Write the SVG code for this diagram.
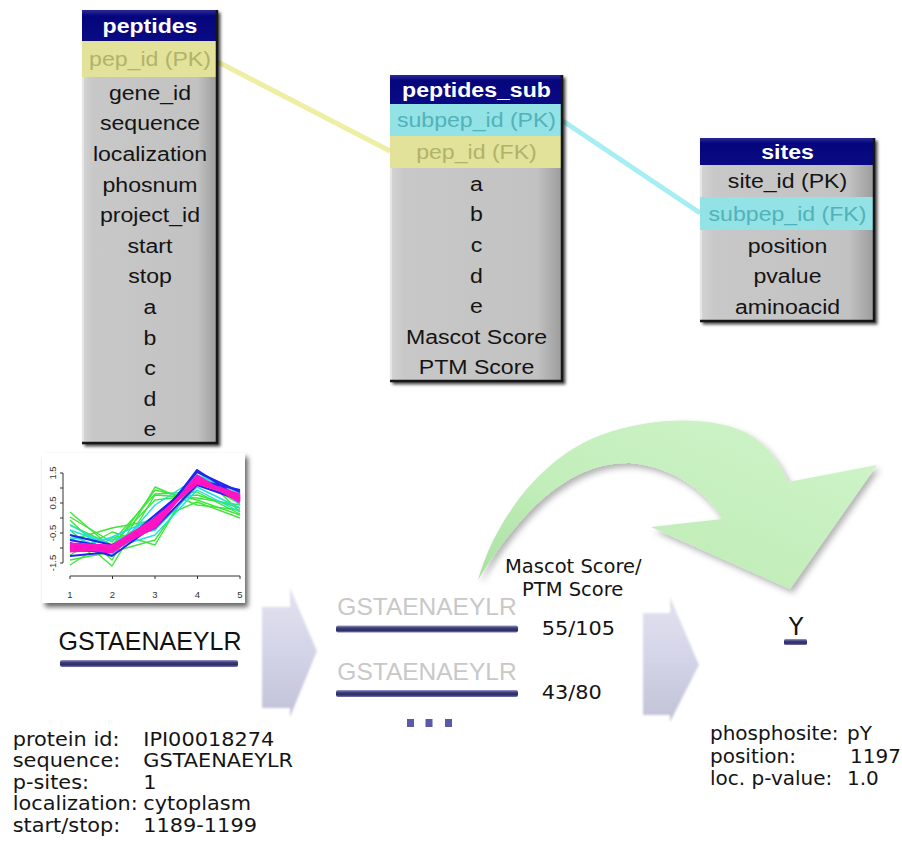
<svg xmlns="http://www.w3.org/2000/svg" width="902" height="844" viewBox="0 0 902 844">
  <defs>
    <style>
      .th { font-family: 'Liberation Sans', Arial, sans-serif; font-weight: bold; font-size: 21px; fill: #ffffff; text-anchor: middle; }
      .td { font-family: 'Liberation Sans', Arial, sans-serif; font-size: 21px; fill: #141414; text-anchor: middle; }
      .td.key-y { fill: #b2b26a; }
      .td.key-c { fill: #52b2ba; }
      .row-y { fill: #e2e29a; }
      .row-c { fill: #92e2e6; }
      .body { fill: url(#tblGray); }
      .head { fill: url(#tblHead); }
      .edge { fill: none; stroke: #161616; stroke-width: 2.5; }
      .hl { fill: #e6e6e6; }
      .lbl { font-family: 'DejaVu Sans', Verdana, sans-serif; font-size: 19.5px; fill: #141414; }
      .lbl-site { font-size: 20px; }
      .big-y { font-size: 24px; text-anchor: middle; }
      .seq { font-family: 'Liberation Sans', Arial, sans-serif; }
      .bar { fill: url(#barGrad); }
      .dot { fill: #5a5aa6; }
      .axis { fill: none; stroke: #333333; stroke-width: 1; }
      .tick { font-family: 'Liberation Sans', Arial, sans-serif; font-size: 9.5px; fill: #333333; text-anchor: middle; }
      .ln { fill: none; stroke-width: 1.4; stroke-linejoin: round; }
      .ln-g { stroke: #3ee63a; }
      .ln-c { stroke: #1ee0dc; }
      .ln-b { stroke: #2424f0; stroke-width: 2; }
      .ln-m { stroke: #ff14c4; stroke-width: 3; }
      .link { fill: none; stroke-width: 5; stroke-linecap: butt; }
      .step { fill: url(#stepGrad); }
    </style>
    <linearGradient id="tblGray" x1="0" y1="0" x2="1" y2="0">
      <stop offset="0" stop-color="#d4d4d4"/>
      <stop offset="0.08" stop-color="#c8c8c8"/>
      <stop offset="0.85" stop-color="#c2c2c2"/>
      <stop offset="1" stop-color="#9a9a9a"/>
    </linearGradient>
    <linearGradient id="tblHead" x1="0" y1="0" x2="0" y2="1">
      <stop offset="0" stop-color="#2a2a96"/>
      <stop offset="0.2" stop-color="#05057c"/>
      <stop offset="1" stop-color="#0a0a84"/>
    </linearGradient>
    <linearGradient id="barGrad" x1="0" y1="0" x2="0" y2="1">
      <stop offset="0" stop-color="#9a9ac8"/>
      <stop offset="0.35" stop-color="#3c3c7a"/>
      <stop offset="0.7" stop-color="#2c2c64"/>
      <stop offset="1" stop-color="#7a7ab0"/>
    </linearGradient>
    <linearGradient id="stepGrad" x1="0" y1="0" x2="0" y2="1">
      <stop offset="0" stop-color="#e2e2f0"/>
      <stop offset="0.5" stop-color="#d4d4e8"/>
      <stop offset="1" stop-color="#c2c2d8"/>
    </linearGradient>
    <linearGradient id="greenGrad" x1="0" y1="1" x2="1" y2="0">
      <stop offset="0" stop-color="#a8e0a0"/>
      <stop offset="0.4" stop-color="#c2eeba"/>
      <stop offset="1" stop-color="#d0f4ca"/>
    </linearGradient>
    <filter id="tblShadow" x="-10%" y="-10%" width="125%" height="125%">
      <feDropShadow dx="2.5" dy="2.5" stdDeviation="1.5" flood-color="#000000" flood-opacity="0.7"/>
    </filter>
    <filter id="plotShadow" x="-10%" y="-10%" width="125%" height="130%">
      <feDropShadow dx="3" dy="4" stdDeviation="2.5" flood-color="#000000" flood-opacity="0.6"/>
    </filter>
    <filter id="arrowShadow" x="-10%" y="-10%" width="125%" height="130%">
      <feDropShadow dx="3" dy="4" stdDeviation="3" flood-color="#000000" flood-opacity="0.3"/>
    </filter>
    <filter id="soft" x="-10%" y="-10%" width="120%" height="120%">
      <feGaussianBlur stdDeviation="0.8"/>
    </filter>
  </defs>

  <rect width="902" height="844" fill="#ffffff"/>

  <!-- key links between tables -->
  <g id="connectors">
    <line class="link" x1="218" y1="62" x2="390" y2="151" stroke="#eeeea4"/>
    <line class="link" x1="563" y1="121" x2="700" y2="213" stroke="#a6eef2"/>
  </g>

  <!-- table: peptides -->
  <g id="peptides">
    <rect class="body" x="82" y="10" width="136" height="434" filter="url(#tblShadow)"/>
    <rect class="head" x="82" y="10" width="136" height="31"/>
    <rect class="row-y" x="82" y="41" width="136" height="36"/>
    <rect class="hl" x="82" y="77" width="2" height="367"/>
    <path class="edge" d="M217,10 V443 H82"/>
    <g transform="translate(150,0) scale(1.1,1)">
      <text class="th" x="0" y="33.5">peptides</text>
      <text class="td key-y" x="0" y="66.5">pep_id (PK)</text>
      <text class="td" x="0" y="99.8">gene_id</text>
      <text class="td" x="0" y="130.4">sequence</text>
      <text class="td" x="0" y="161">localization</text>
      <text class="td" x="0" y="191.6">phosnum</text>
      <text class="td" x="0" y="222.2">project_id</text>
      <text class="td" x="0" y="252.8">start</text>
      <text class="td" x="0" y="283.4">stop</text>
      <text class="td" x="0" y="314">a</text>
      <text class="td" x="0" y="344.6">b</text>
      <text class="td" x="0" y="375.2">c</text>
      <text class="td" x="0" y="405.8">d</text>
      <text class="td" x="0" y="436.4">e</text>
    </g>
  </g>

  <!-- table: peptides_sub -->
  <g id="peptides_sub">
    <rect class="body" x="390" y="75" width="173" height="307" filter="url(#tblShadow)"/>
    <rect class="head" x="390" y="75" width="173" height="29"/>
    <rect class="row-c" x="390" y="104" width="173" height="32"/>
    <rect class="row-y" x="390" y="136" width="173" height="32"/>
    <rect class="hl" x="390" y="168" width="2" height="214"/>
    <path class="edge" d="M562,75 V381 H390"/>
    <g transform="translate(476.5,0) scale(1.1,1)">
      <text class="th" x="0" y="97">peptides_sub</text>
      <text class="td key-c" x="0" y="127.5">subpep_id (PK)</text>
      <text class="td key-y" x="0" y="159.5">pep_id (FK)</text>
      <text class="td" x="0" y="190.8">a</text>
      <text class="td" x="0" y="221.4">b</text>
      <text class="td" x="0" y="252">c</text>
      <text class="td" x="0" y="282.6">d</text>
      <text class="td" x="0" y="313.2">e</text>
      <text class="td" x="0" y="343.8">Mascot Score</text>
      <text class="td" x="0" y="374.4">PTM Score</text>
    </g>
  </g>

  <!-- table: sites -->
  <g id="sites">
    <rect class="body" x="700" y="138" width="175" height="184" filter="url(#tblShadow)"/>
    <rect class="head" x="700" y="138" width="175" height="27"/>
    <rect class="row-c" x="700" y="197" width="175" height="33"/>
    <rect class="hl" x="700" y="165" width="2" height="32"/>
    <rect class="hl" x="700" y="230" width="2" height="92"/>
    <path class="edge" d="M874,138 V321 H700"/>
    <g transform="translate(787.5,0) scale(1.1,1)">
      <text class="th" x="0" y="159">sites</text>
      <text class="td" x="0" y="188.5">site_id (PK)</text>
      <text class="td key-c" x="0" y="221">subpep_id (FK)</text>
      <text class="td" x="0" y="252.8">position</text>
      <text class="td" x="0" y="283.4">pvalue</text>
      <text class="td" x="0" y="314">aminoacid</text>
    </g>
  </g>

  <!-- expression profile plot -->
  <g id="expression-plot">
    <rect x="42" y="453" width="203" height="150" fill="#ffffff" filter="url(#plotShadow)"/>
    <g>
      <polyline class="ln ln-g" points="70,512 112,548 155,490 197,500 240,515"/>
      <polyline class="ln ln-g" points="70,520 112,560 155,487 197,505 240,510"/>
      <polyline class="ln ln-g" points="70,565 112,538 155,530 197,470 240,512"/>
      <polyline class="ln ln-g" points="70,530 112,566 155,495 197,498 240,505"/>
      <polyline class="ln ln-g" points="70,555 112,532 155,545 197,475 240,500"/>
      <polyline class="ln ln-g" points="70,540 112,528 155,520 197,502 240,518"/>
      <polyline class="ln ln-g" points="70,525 112,545 155,500 197,495 240,508"/>
      <polyline class="ln ln-g" points="70,560 112,552 155,540 197,480 240,504"/>
      <polyline class="ln ln-g" points="70,517 112,542 155,494 197,492 240,514"/>
      <polyline class="ln ln-c" points="70,530 112,545 155,515 197,480 240,500"/>
      <polyline class="ln ln-c" points="70,538 112,540 155,530 197,487 240,508"/>
      <polyline class="ln ln-c" points="70,545 112,555 155,505 197,478 240,497"/>
      <polyline class="ln ln-c" points="70,525 112,548 155,535 197,490 240,512"/>
      <polyline class="ln ln-c" points="70,550 112,537 155,518 197,475 240,493"/>
      <polyline class="ln ln-c" points="70,535 112,552 155,526 197,470 240,505"/>
      <polyline class="ln ln-b" points="70,540 112,548 155,522 197,472 240,492"/>
      <polyline class="ln ln-b" points="70,550 112,552 155,518 197,478 240,496"/>
      <polyline class="ln ln-b" points="70,535 112,545 155,528 197,485 240,500"/>
      <polyline class="ln ln-b" points="70,556 112,552 155,515 197,480 240,490"/>
      <polyline class="ln ln-b" points="70,543 112,556 155,525 197,470 240,498"/>
      <polyline class="ln ln-m" points="70,546 112,548 155,522 197,480 240,498"/>
      <polyline class="ln ln-m" points="70,549 112,550 155,525 197,478 240,500"/>
      <polyline class="ln ln-m" points="70,544 112,546 155,519 197,483 240,496"/>
      <polyline class="ln ln-m" points="70,551 112,549 155,527 197,476 240,502"/>
      <polyline class="ln ln-m" points="70,547 112,552 155,521 197,481 240,495"/>
    </g>
    <path class="axis" d="M63,473 V563 M60,473 H63 M60,488 H63 M60,503 H63 M60,518 H63 M60,533 H63 M60,548 H63 M60,563 H63"/>
    <path class="axis" d="M70,576 H240 M70,576 V579 M112.5,576 V579 M155,576 V579 M197.5,576 V579 M240,576 V579"/>
    <text class="tick" transform="translate(56,473) rotate(-90)">1.5</text>
    <text class="tick" transform="translate(56,503) rotate(-90)">0.5</text>
    <text class="tick" transform="translate(56,533) rotate(-90)">-0.5</text>
    <text class="tick" transform="translate(56,563) rotate(-90)">-1.5</text>
    <text class="tick" x="70" y="598">1</text>
    <text class="tick" x="112.5" y="598">2</text>
    <text class="tick" x="155" y="598">3</text>
    <text class="tick" x="197.5" y="598">4</text>
    <text class="tick" x="240" y="598">5</text>
  </g>

  <!-- peptide sequence -->
  <g id="peptide">
    <text class="seq" x="150" y="650" font-size="25" fill="#111111" text-anchor="middle">GSTAENAEYLR</text>
    <rect class="bar" x="60" y="660" width="178" height="7" rx="2"/>
  </g>

  <!-- peptide details -->
  <g id="peptide-info" class="lbl">
    <g transform="translate(12.7,0) scale(1.07,1)">
      <text x="0" y="746">protein id:</text>
      <text x="122" y="746">IPI00018274</text>
      <text x="0" y="767.5">sequence:</text>
      <text x="122" y="767.5">GSTAENAEYLR</text>
      <text x="0" y="789">p-sites:</text>
      <text x="122" y="789">1</text>
      <text x="0" y="810.5">localization:</text>
      <text x="122" y="810.5">cytoplasm</text>
      <text x="0" y="832">start/stop:</text>
      <text x="122" y="832">1189-1199</text>
    </g>
  </g>

  <!-- processing steps -->
  <g id="step-1">
    <path class="step" filter="url(#soft)" d="M262,607 H290 V588 L317,651 L290,717 V708 H262 Z"/>
  </g>
  <g id="step-2">
    <path class="step" filter="url(#soft)" d="M643,613 H670 V597 L699,665 L670,722 V715 H643 Z"/>
  </g>

  <!-- candidate peptides -->
  <g id="candidates">
    <text class="seq" x="427" y="615" font-size="24.5" fill="#c8c8c8" text-anchor="middle">GSTAENAEYLR</text>
    <rect class="bar" x="336" y="625.5" width="182" height="7" rx="2"/>
    <text class="seq" x="427" y="680" font-size="24.5" fill="#c8c8c8" text-anchor="middle">GSTAENAEYLR</text>
    <rect class="bar" x="336" y="690" width="182" height="7" rx="2"/>
    <rect class="dot" x="407" y="719" width="7" height="8"/>
    <rect class="dot" x="425.5" y="719" width="7" height="8"/>
    <rect class="dot" x="445" y="719" width="7" height="8"/>
  </g>

  <!-- score labels -->
  <g id="scores" class="lbl">
    <text x="505" y="573">Mascot Score/</text>
    <text x="522" y="595.5">PTM Score</text>
    <text x="541.7" y="635.5" transform="translate(-37.9,0) scale(1.07,1)">55/105</text>
    <text x="541.7" y="699" transform="translate(-37.9,0) scale(1.07,1)">43/80</text>
  </g>

  <!-- curved arrow to site -->
  <g id="score-arrow">
    <path fill="url(#greenGrad)" filter="url(#arrowShadow)" d="M478,580 C492,530 530,470 585,442 C630,420 700,412 745,432 C765,442 780,462 788,482 L877,465 L790,589 L651,527 L722,519 C705,488 668,466 630,463 C580,462 530,495 478,580 Z"/>
  </g>

  <!-- phosphosite -->
  <g id="site">
    <text class="lbl big-y" x="796" y="635">Y</text>
    <rect class="bar" x="784" y="639" width="23" height="6" rx="1.5"/>
  </g>

  <g id="site-info" class="lbl lbl-site">
    <text x="710" y="740">phosphosite:</text>
    <text x="847" y="740">pY</text>
    <text x="710" y="762.5">position:</text>
    <text x="850" y="762.5">1197</text>
    <text x="710" y="785">loc. p-value:</text>
    <text x="847" y="785">1.0</text>
  </g>
</svg>
